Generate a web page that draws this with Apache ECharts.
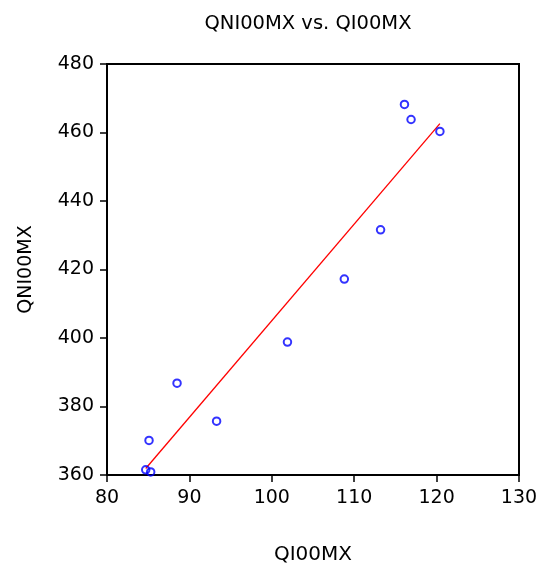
<!DOCTYPE html>
<html>
<head>
    <meta charset="utf-8">
    <script src="https://cdn.jsdelivr.net/npm/echarts@6/dist/echarts.min.js"></script>
</head>
<body style="margin: 0">
    <div id="container" style="height: 567px; width: 540px;"></div>
    <script>
    // scatter points
    var qi00mx  = [116.1, 116.9, 120.4, 113.2, 108.8, 101.9, 88.5, 93.3, 85.1, 84.7, 85.3];
    var qni00mx = [468.2, 463.8, 460.3, 431.6, 417.2, 398.8, 386.8, 375.7, 370.1, 361.5, 360.9];
    // fitted line end points
    var fitX = [84.7, 120.4];
    var fitY = [361.9, 462.6];

    var points = qi00mx.map(function (x, i) { return [x, qni00mx[i]]; });
    var fit = fitX.map(function (x, i) { return [x, fitY[i]]; });

    var font = 'DejaVu Sans';
    var myChart = echarts.init(document.getElementById('container'));

    var option = {
        animation: false,
        backgroundColor: '#fff',
        title: {
            text: 'QNI00MX vs. QI00MX',
            left: 303,
            top: 9,
            textAlign: 'center',
            textStyle: { fontFamily: font, fontSize: 19.5, fontWeight: 'normal', color: '#000' }
        },
        grid: {
            left: 107, right: 21, top: 64, bottom: 92,
            outerBoundsMode: 'none',
            containLabel: false,
            show: true,
            borderColor: '#000',
            borderWidth: 2
        },
        xAxis: {
            type: 'value',
            min: 80, max: 130, interval: 10,
            name: 'QI00MX',
            nameLocation: 'middle',
            nameGap: 70,
            nameTextStyle: { fontFamily: font, fontSize: 20, color: '#000' },
            axisLine: { lineStyle: { color: '#000', width: 2 } },
            axisTick: { length: 7, lineStyle: { color: '#000', width: 1.5 } },
            axisLabel: { margin: 14, fontFamily: font, fontSize: 19, color: '#000' },
            splitLine: { show: false }
        },
        yAxis: {
            type: 'value',
            min: 360, max: 480, interval: 20,
            name: 'QNI00MX',
            nameLocation: 'middle',
            nameGap: 71,
            nameTextStyle: { fontFamily: font, fontSize: 19, color: '#000' },
            axisLine: { show: true, lineStyle: { color: '#000', width: 2 } },
            axisTick: { show: true, length: 7, lineStyle: { color: '#000', width: 1.5 } },
            axisLabel: { margin: 13, fontFamily: font, fontSize: 19, color: '#000' },
            splitLine: { show: false }
        },
        series: [{
            type: 'line',
            data: fit,
            symbol: 'none',
            lineStyle: { color: '#ff0000', width: 1.3 },
            z: 2
        }, {
            type: 'scatter',
            data: points,
            symbol: 'circle',
            symbolSize: 7.5,
            itemStyle: { color: 'rgba(0,0,0,0)', borderColor: '#0000ff', borderWidth: 2 },
            z: 3
        }]
    };

    myChart.setOption(option);
    </script>
</body>
</html>
